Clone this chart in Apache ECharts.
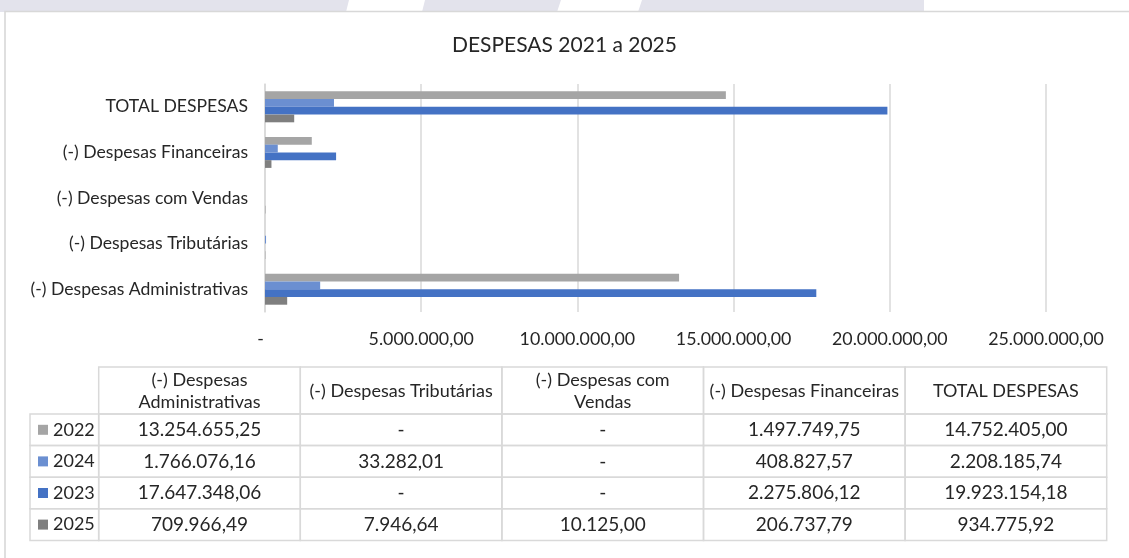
<!DOCTYPE html>
<html>
<head>
<meta charset="utf-8">
<script src="https://cdn.jsdelivr.net/npm/echarts@6/dist/echarts.min.js"></script>
<style>
  html, body { margin: 0; padding: 0; background: #ffffff; }
  #chart { width: 1129px; height: 558px; }
</style>
</head>
<body>
<div id="chart"></div>
<script>
// ---- Data ----
const title = 'DESPESAS 2021 a 2025';
const categories = ['(-) Despesas Administrativas', '(-) Despesas Tributárias', '(-) Despesas com Vendas', '(-) Despesas Financeiras', 'TOTAL DESPESAS'];
const tableHeaders = ['(-) Despesas\nAdministrativas', '(-) Despesas Tributárias', '(-) Despesas com\nVendas', '(-) Despesas Financeiras', 'TOTAL DESPESAS'];
const years = ['2022', '2024', '2023', '2025'];
const values2022 = [13254655.25, 0, 0, 1497749.75, 14752405.00];
const values2024 = [1766076.16, 33282.01, 0, 408827.57, 2208185.74];
const values2023 = [17647348.06, 0, 0, 2275806.12, 19923154.18];
const values2025 = [709966.49, 7946.64, 10125.00, 206737.79, 934775.92];
const seriesValues = [values2022, values2024, values2023, values2025];
const xMin = 0, xMax = 25000000, xInterval = 5000000;

// ---- Styles ----
const colors = ['#a5a5a5', '#6b8fd1', '#4472c4', '#7f7f7f'];
const FONT = 'Lato, "Open Sans", sans-serif';
const TEXT = '#262626';
const GRID_C = '#d9d9d9';

function fmt(v) {
  if (v === 0) return '-';
  const neg = v < 0; v = Math.abs(v);
  const s = v.toFixed(2);
  let [ip, dp] = s.split('.');
  ip = ip.replace(/\B(?=(\d{3})+(?!\d))/g, '.');
  return (neg ? '-' : '') + ip + ',' + dp;
}

const chart = echarts.init(document.getElementById('chart'));

// ---- Table layout ----
const colX0 = 98.7, colW = 201.6;
const rowHdrX0 = 30;
const hdrTop = 367, hdrBot = 414, rowH = 31.6;
const graphics = [];

// background strip & box
graphics.push({ type: 'rect', shape: { x: 0, y: 0, width: 1129, height: 12 }, style: { fill: '#e3e3ec' }, silent: true, z: -10 });
const gaps = [[346, 422, 3], [557, 638, 4], [924, 1129, 0]];
gaps.forEach(g => graphics.push({ type: 'polygon', shape: { points: [[g[0] + g[2], 0], [g[1] + g[2], 0], [g[1], 12], [g[0], 12]] }, style: { fill: '#ffffff' }, silent: true, z: -9 }));
graphics.push({ type: 'rect', shape: { x: 5, y: 11.5, width: 1140, height: 560 }, style: { fill: '#ffffff', stroke: '#d8d8d8', lineWidth: 1.6 }, silent: true, z: -8 });

// header cells
tableHeaders.forEach((h, i) => {
  const x = colX0 + i * colW;
  graphics.push({ type: 'rect', shape: { x: x, y: hdrTop, width: colW, height: hdrBot - hdrTop }, style: { fill: 'none', stroke: GRID_C, lineWidth: 1.5 }, silent: true });
  graphics.push({ type: 'text', x: x + colW / 2, y: (hdrTop + hdrBot) / 2 + 0.5, style: { text: h, fill: TEXT, font: '18px ' + FONT, lineHeight: 22, textAlign: 'center', textVerticalAlign: 'middle' }, silent: true });
});
// data rows
years.forEach((yr, r) => {
  const y = hdrBot + r * rowH;
  const cy = y + rowH / 2;
  graphics.push({ type: 'rect', shape: { x: rowHdrX0, y: y, width: colX0 - rowHdrX0, height: rowH }, style: { fill: 'none', stroke: GRID_C, lineWidth: 1.5 }, silent: true });
  graphics.push({ type: 'rect', shape: { x: 38, y: cy - 5, width: 10, height: 10 }, style: { fill: colors[r] }, silent: true });
  graphics.push({ type: 'text', x: 53, y: cy, style: { text: yr, fill: TEXT, font: '18px ' + FONT, textAlign: 'left', textVerticalAlign: 'middle' }, silent: true });
  seriesValues[r].forEach((v, c) => {
    const x = colX0 + c * colW;
    graphics.push({ type: 'rect', shape: { x: x, y: y, width: colW, height: rowH }, style: { fill: 'none', stroke: GRID_C, lineWidth: 1.5 }, silent: true });
    graphics.push({ type: 'text', x: x + colW / 2, y: cy, style: { text: fmt(v), fill: TEXT, font: '19px ' + FONT, textAlign: 'center', textVerticalAlign: 'middle' }, silent: true });
  });
});

const option = {
  backgroundColor: 'transparent',
  animation: false,
  title: {
    text: title, left: 'center', top: 30,
    textStyle: { fontFamily: FONT, fontSize: 21, fontWeight: 'normal', color: '#262626' }
  },
  grid: { left: 265, right: 83, top: 84, bottom: 246, containLabel: false },
  xAxis: {
    type: 'value', min: xMin, max: xMax, interval: xInterval,
    axisLine: { show: false }, axisTick: { show: false },
    splitLine: { show: true, lineStyle: { color: GRID_C, width: 1.5 } },
    axisLabel: { margin: 18, color: TEXT, fontFamily: FONT, fontSize: 17.8, formatter: v => v === 0 ? '-  ' : fmt(v) }
  },
  yAxis: {
    type: 'category', data: categories,
    axisLine: { show: true, lineStyle: { color: GRID_C, width: 1.5 } },
    axisTick: { show: false },
    axisLabel: { margin: 17, color: TEXT, fontFamily: FONT, fontSize: 17.6 }
  },
  series: years.map((yr, i) => ({
    name: yr, type: 'bar', data: seriesValues[i],
    barGap: '0%', barCategoryGap: '32%',
    itemStyle: { color: colors[i] }
  })),
  graphic: graphics
};
chart.setOption(option);
</script>
</body>
</html>
